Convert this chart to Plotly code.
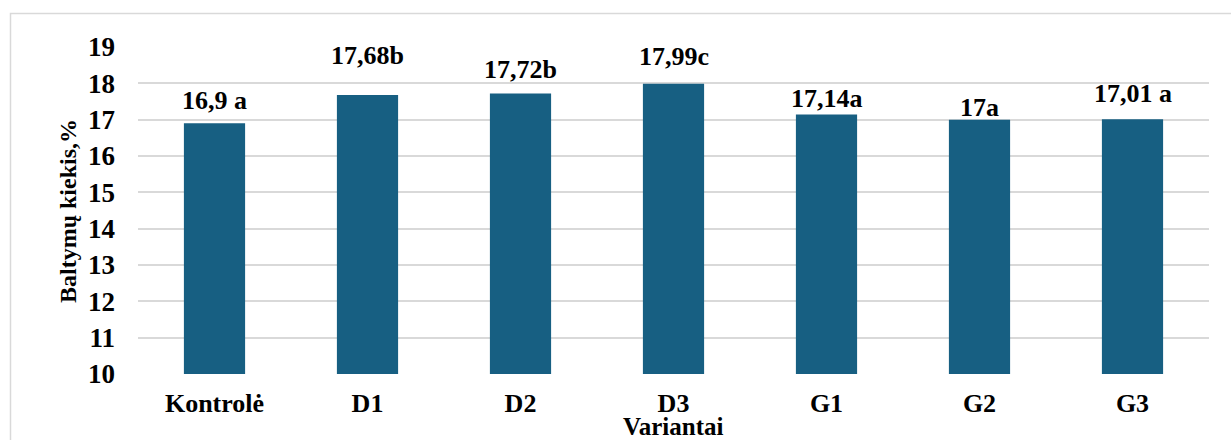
import plotly.graph_objects as go

categories = ["Kontrolė", "D1", "D2", "D3", "G1", "G2", "G3"]
protein = [16.9, 17.68, 17.72, 17.99, 17.14, 17.0, 17.01]
groups = [" a", "b", "b", "c", "a", "a", " a"]
y_ticks = list(range(10, 20))

# hand-placed vertical offsets (px) of the value labels above each bar
label_lift = [6, 23, 8, 11, 0, -4, 9]


def fmt(v):
    s = f"{v:.2f}".rstrip("0").rstrip(".")
    return s.replace(".", ",")


labels = [fmt(v) + g for v, g in zip(protein, groups)]

FONT = "Liberation Serif"
BAR = "#175f82"
GRID = "#d9d9d9"

W, H = 1231, 440
L, R, T, B = 138, 22, 47, 66
pw, ph = W - L - R, H - T - B


def bold(s):
    return f"<b>{s}</b>"


fig = go.Figure(
    go.Bar(
        x=categories,
        y=protein,
        marker=dict(color=BAR, line=dict(width=0)),
        width=0.4,
    )
)

for c, v, t, lift in zip(categories, protein, labels, label_lift):
    fig.add_annotation(
        x=c, y=v, text=bold(t), showarrow=False, yanchor="bottom", yshift=lift,
        font=dict(family=FONT, size=26, color="#000"),
    )

# axis titles
fig.add_annotation(
    xref="paper", yref="paper", x=0.5, y=(H - B - 426) / ph,
    text=bold("Variantai"), showarrow=False, yanchor="middle",
    font=dict(family=FONT, size=25, color="#000"),
)
fig.add_annotation(
    xref="paper", yref="paper", x=(68 - L) / pw, y=(H - B - 211) / ph,
    text=bold("Baltymų kiekis,%"), showarrow=False, textangle=-90,
    xanchor="center", yanchor="middle",
    font=dict(family=FONT, size=24, color="#000"),
)

# outer chart border
fig.add_shape(
    type="rect", xref="paper", yref="paper",
    x0=(10.5 - L) / pw, x1=(W + 10 - L) / pw,
    y0=(H - B - (H + 10)) / ph, y1=(H - B - 13.5) / ph,
    line=dict(color=GRID, width=1.5), fillcolor="rgba(0,0,0,0)", layer="below",
)

fig.update_layout(
    width=W, height=H,
    margin=dict(l=L, r=R, t=T, b=B),
    paper_bgcolor="white", plot_bgcolor="white",
    showlegend=False,
    font=dict(family=FONT, color="#000"),
    bargap=0.6,
)
fig.update_xaxes(
    showgrid=False, showline=False, ticks="",
    tickvals=categories, ticktext=[bold(c) for c in categories],
    tickfont=dict(family=FONT, size=26, color="#000"),
    ticklabelstandoff=11,
)
fig.update_yaxes(
    range=[10, 19], tickvals=y_ticks, ticktext=[bold(v) for v in y_ticks],
    showgrid=True, gridcolor=GRID, gridwidth=1.5,
    zeroline=False, showline=False, ticks="",
    tickfont=dict(family=FONT, size=27, color="#000"),
    ticklabelstandoff=22,
)

fig.write_html("out.html")
